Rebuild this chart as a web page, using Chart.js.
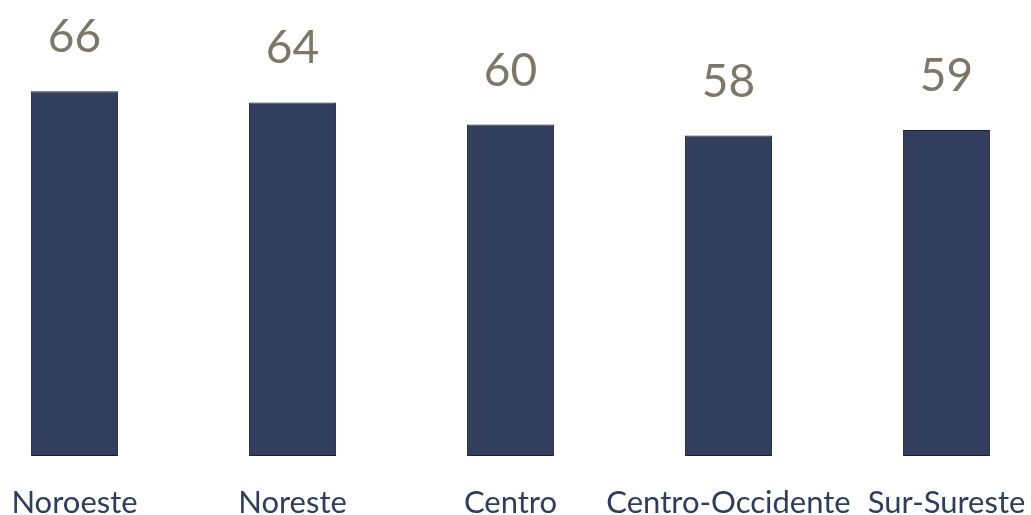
<!DOCTYPE html>
<html>
<head>
<meta charset="utf-8">
<script src="https://cdn.jsdelivr.net/npm/chart.js@4.4.1/dist/chart.umd.min.js"></script>
<style>
    html, body { margin: 0; padding: 0; background: #fff; }
    #wrap { width: 1031px; height: 515px; }
</style>
</head>
<body>
<div id="wrap"><canvas id="region-chart"></canvas></div>
<script>
// Regiones y valores
const regiones = ['Noroeste', 'Noreste', 'Centro', 'Centro-Occidente', 'Sur-Sureste'];
const valores = [66, 64, 60, 58, 59];

// Etiquetas de valor encima de cada barra
const valueLabels = {
    id: 'valueLabels',
    afterDatasetsDraw: (chart) => {
        const ctx = chart.ctx;
        const meta = chart.getDatasetMeta(0);
        ctx.save();
        ctx.font = '46px Lato';
        ctx.fillStyle = '#7b7868';
        ctx.textAlign = 'center';
        ctx.textBaseline = 'alphabetic';
        meta.data.forEach((bar, i) => {
            ctx.fillText(chart.data.datasets[0].data[i], bar.x, bar.y - 39);
        });
        ctx.restore();
    }
};

const regionChart = document.querySelector('#region-chart');

new Chart(regionChart, {
    type: 'bar',
    data: {
        labels: regiones,
        datasets: [{
            data: valores,
            backgroundColor: '#323e5e',
            borderColor: '#1c2130',
            borderWidth: 1,
            borderSkipped: false,
            barPercentage: 1,
            categoryPercentage: 0.4,
            clip: false
        }]
    },
    options: {
        responsive: true,
        maintainAspectRatio: false,
        animation: false,
        layout: {
            padding: { top: 14, left: 74.5, right: 84.5, bottom: 0 }
        },
        scales: {
            x: {
                offset: false,
                grid: { display: false, drawTicks: false },
                border: { display: false },
                ticks: {
                    color: '#2f3d5c',
                    font: { family: 'Lato', size: 31 },
                    padding: 28,
                    maxRotation: 0,
                    autoSkip: false
                },
                // alto fijo del eje y etiquetas libres de salirse del área
                afterFit: (scale) => {
                    scale.height = 59;
                    scale.paddingLeft = 0;
                    scale.paddingRight = 0;
                }
            },
            y: {
                display: false,
                min: 0,
                max: 80
            }
        },
        plugins: {
            legend: { display: false },
            tooltip: { enabled: false }
        }
    },
    plugins: [valueLabels]
});
</script>
</body>
</html>
